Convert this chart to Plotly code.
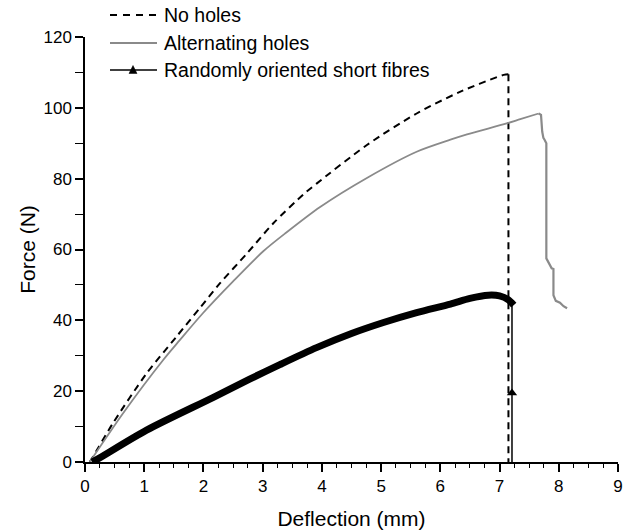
import plotly.graph_objects as go

# ---- data ----
# No holes: rising part, then failure drop
nh_x = [0.08, 0.135, 0.47, 1.04, 1.545, 1.94, 2.28, 2.73, 3.18, 3.69, 3.91, 4.76, 5.60, 6.33, 7.07, 7.15]
nh_y = [0.0, 1.5, 10.9, 25.0, 35.4, 43.5, 50.5, 58.8, 67.4, 75.6, 78.6, 89.5, 98.4, 104.5, 109.3, 109.5]
nh_drop_x = [7.15, 7.15]
nh_drop_y = [109.5, 0.0]

# Alternating holes: rising part, then stepped failure
alt_x = [0.08, 0.64, 1.32, 1.60, 1.99, 2.50, 3.01, 3.40, 3.97, 4.76, 5.60, 6.17, 6.45, 7.12, 7.35, 7.66]
alt_y = [0.0, 13.7, 28.8, 34.4, 42.0, 51.0, 59.5, 64.8, 72.0, 80.2, 87.6, 91.0, 92.5, 95.6, 96.8, 98.4]
alt_drop_x = [7.66, 7.70, 7.72, 7.74, 7.76, 7.79, 7.79, 7.82, 7.85, 7.88, 7.91, 7.91, 7.95, 8.02, 8.08, 8.14]
alt_drop_y = [98.4, 98.0, 93.3, 91.5, 91.0, 90.0, 57.5, 56.5, 55.5, 54.7, 54.5, 47.1, 45.5, 45.0, 44.0, 43.4]

# Randomly oriented short fibres
rnd_x = [0.12, 0.19, 1.04, 2.16, 2.78, 3.29, 3.91, 4.50, 5.04, 5.60, 6.17, 6.50, 6.81, 7.00, 7.15, 7.24]
rnd_y = [0.0, 0.6, 9.0, 18.2, 23.4, 27.5, 32.3, 36.3, 39.4, 42.2, 44.6, 46.2, 47.1, 46.9, 45.8, 44.3]
rnd_drop_x = [7.21, 7.21, 7.21]
rnd_drop_y = [44.3, 19.5, 0.0]
rnd_mark_x = [7.21]
rnd_mark_y = [19.5]

series_names = ["No holes", "Alternating holes", "Randomly oriented short fibres"]

x_ticks = [0, 1, 2, 3, 4, 5, 6, 7, 8, 9]
y_ticks = [0, 20, 40, 60, 80, 100, 120]

# ---- layout constants ----
W, H = 630, 532
ML, MR, MT, MB = 85, 12, 37, 70
PW, PH = W - ML - MR, H - MT - MB
FONT = "Arial, Liberation Sans, sans-serif"
GRAY = "#8a8a8a"
DASH = "7px,5px"


def px2paper(px, py):
    return (px - ML) / PW, (H - MB - py) / PH


fig = go.Figure()
fig.add_trace(go.Scatter(x=nh_x, y=nh_y, mode="lines", name=series_names[0],
                         line=dict(color="black", width=2, dash=DASH, shape="spline", smoothing=0.8)))
fig.add_trace(go.Scatter(x=nh_drop_x, y=nh_drop_y, mode="lines", name=series_names[0],
                         line=dict(color="black", width=2, dash=DASH)))
fig.add_trace(go.Scatter(x=alt_x, y=alt_y, mode="lines", name=series_names[1],
                         line=dict(color=GRAY, width=1.8, shape="spline", smoothing=0.8)))
fig.add_trace(go.Scatter(x=alt_drop_x, y=alt_drop_y, mode="lines", name=series_names[1],
                         line=dict(color=GRAY, width=2.2)))
fig.add_trace(go.Scatter(x=rnd_x, y=rnd_y, mode="lines", name=series_names[2],
                         line=dict(color="black", width=7, shape="spline", smoothing=0.8)))
fig.add_trace(go.Scatter(x=rnd_drop_x, y=rnd_drop_y, mode="lines", name=series_names[2],
                         line=dict(color="black", width=1.5)))
fig.add_trace(go.Scatter(x=rnd_mark_x, y=rnd_mark_y, mode="markers", name=series_names[2],
                         marker=dict(symbol="triangle-up", size=9, color="black", line=dict(width=0))))

# ---- manual legend ----
legend_rows = [15, 43, 70]
lx0, lx1, tx = 110, 157, 162
shapes = []
annotations = []
styles = [dict(color="black", width=2, dash="7px,6px"),
          dict(color=GRAY, width=1.8),
          dict(color="black", width=1.5)]
for name, py, st in zip(series_names, legend_rows, styles):
    x0, y0 = px2paper(lx0, py)
    x1, _ = px2paper(lx1, py)
    shapes.append(dict(type="line", xref="paper", yref="paper", x0=x0, x1=x1, y0=y0, y1=y0, line=st))
    xt, yt = px2paper(tx, py)
    annotations.append(dict(xref="paper", yref="paper", x=xt, y=yt, xanchor="left", yanchor="middle",
                            text=name, showarrow=False, font=dict(family=FONT, size=19.5, color="black")))
# triangle in third legend row
cx, cy = 133, legend_rows[2]
pts = [px2paper(cx - 4, cy + 3.5), px2paper(cx + 4, cy + 3.5), px2paper(cx, cy - 4.5)]
path = "M {} {} L {} {} L {} {} Z".format(pts[0][0], pts[0][1], pts[1][0], pts[1][1], pts[2][0], pts[2][1])
shapes.append(dict(type="path", xref="paper", yref="paper", path=path, fillcolor="black",
                   line=dict(color="black", width=0.5)))

axis_common = dict(showgrid=False, zeroline=False, showline=True, linecolor="black", linewidth=1.5,
                   ticks="outside", ticklen=8, tickwidth=1.5, tickcolor="black", automargin=False,
                   tickfont=dict(family=FONT, size=17, color="black"))

fig.update_layout(
    width=W, height=H,
    margin=dict(l=ML, r=MR, t=MT, b=MB, pad=0),
    paper_bgcolor="white", plot_bgcolor="white",
    font=dict(family=FONT, color="black"),
    xaxis=dict(range=[0, 9], tickvals=x_ticks, ticktext=[str(v) for v in x_ticks],
               minor=dict(dtick=0.25, tick0=0, ticks="outside", ticklen=4, tickwidth=1.2, tickcolor="black"),
               title=dict(text="Deflection (mm)", font=dict(family=FONT, size=21, color="black"), standoff=16),
               **axis_common),
    yaxis=dict(range=[0, 120], tickvals=y_ticks, ticktext=[str(v) for v in y_ticks],
               minor=dict(dtick=10, tick0=0, ticks="outside", ticklen=8, tickwidth=1.2, tickcolor="black"),
               title=dict(text="Force (N)", font=dict(family=FONT, size=21, color="black"), standoff=2),
               **axis_common),
    shapes=shapes,
    annotations=annotations,
    showlegend=False,
)

fig.write_html("out.html")
